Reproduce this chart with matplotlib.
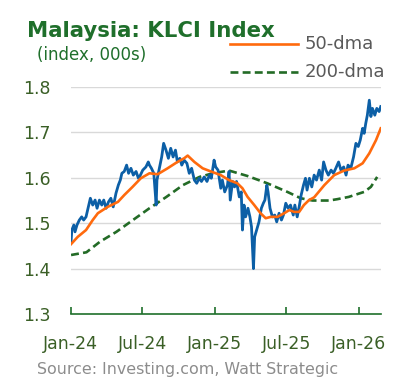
import matplotlib
matplotlib.use("Agg")
import matplotlib.pyplot as plt
import pandas as pd

# KLCI close (index, 000s)
klci_dates = [
    "2024-01-02", "2024-01-04", "2024-01-09", "2024-01-12", "2024-01-17", "2024-01-23",
    "2024-01-29", "2024-02-03", "2024-02-09", "2024-02-15", "2024-02-20", "2024-02-26",
    "2024-03-03", "2024-03-08", "2024-03-14", "2024-03-20", "2024-03-25", "2024-03-31",
    "2024-04-06", "2024-04-12", "2024-04-18", "2024-04-25", "2024-05-01", "2024-05-06",
    "2024-05-10", "2024-05-16", "2024-05-22", "2024-05-27", "2024-06-02", "2024-06-08",
    "2024-06-15", "2024-06-21", "2024-06-26", "2024-07-02", "2024-07-10", "2024-07-16",
    "2024-07-19", "2024-07-24", "2024-07-30", "2024-08-05", "2024-08-07", "2024-08-13",
    "2024-08-19", "2024-08-24", "2024-08-30", "2024-09-05", "2024-09-11", "2024-09-17",
    "2024-09-23", "2024-09-28", "2024-10-04", "2024-10-09", "2024-10-15", "2024-10-22",
    "2024-10-28", "2024-11-03", "2024-11-10", "2024-11-16", "2024-11-22", "2024-11-28",
    "2024-12-05", "2024-12-12", "2024-12-18", "2024-12-23", "2024-12-30", "2025-01-03",
    "2025-01-09", "2025-01-16", "2025-01-20", "2025-01-26", "2025-02-02", "2025-02-06",
    "2025-02-09", "2025-02-15", "2025-02-20", "2025-02-25", "2025-03-04", "2025-03-09",
    "2025-03-12", "2025-03-16", "2025-03-20", "2025-03-26", "2025-03-31", "2025-04-04",
    "2025-04-09", "2025-04-12", "2025-04-17", "2025-04-23", "2025-04-29", "2025-05-04",
    "2025-05-08", "2025-05-13", "2025-05-16", "2025-05-21", "2025-05-27", "2025-06-02",
    "2025-06-07", "2025-06-13", "2025-06-19", "2025-06-24", "2025-06-30", "2025-07-06",
    "2025-07-12", "2025-07-19", "2025-07-23", "2025-07-29", "2025-08-03", "2025-08-08",
    "2025-08-14", "2025-08-19", "2025-08-23", "2025-08-29", "2025-09-04", "2025-09-10",
    "2025-09-16", "2025-09-23", "2025-09-29", "2025-10-04", "2025-10-10", "2025-10-16",
    "2025-10-23", "2025-10-29", "2025-11-04", "2025-11-11", "2025-11-17", "2025-11-24",
    "2025-11-30", "2025-12-05", "2025-12-12", "2025-12-19", "2025-12-25", "2025-12-31",
    "2026-01-05", "2026-01-11", "2026-01-15", "2026-01-19", "2026-01-23", "2026-01-28",
    "2026-02-01", "2026-02-05", "2026-02-11", "2026-02-16", "2026-02-22", "2026-02-26",
]
klci = [
    1.459, 1.485, 1.496, 1.481, 1.496, 1.507,
    1.514, 1.507, 1.514, 1.536, 1.555, 1.540,
    1.551, 1.533, 1.551, 1.540, 1.551, 1.533,
    1.547, 1.555, 1.536, 1.566, 1.584, 1.595,
    1.610, 1.614, 1.628, 1.610, 1.621, 1.606,
    1.614, 1.599, 1.606, 1.617, 1.624, 1.635,
    1.628, 1.621, 1.610, 1.540, 1.595, 1.621,
    1.646, 1.676, 1.661, 1.643, 1.665, 1.646,
    1.661, 1.635, 1.643, 1.628, 1.639, 1.632,
    1.610, 1.621, 1.595, 1.588, 1.599, 1.592,
    1.602, 1.592, 1.606, 1.599, 1.639, 1.624,
    1.617, 1.577, 1.595, 1.569, 1.584, 1.614,
    1.551, 1.592, 1.580, 1.592, 1.558, 1.569,
    1.485, 1.540, 1.514, 1.533, 1.514, 1.492,
    1.400, 1.470, 1.485, 1.503, 1.533, 1.544,
    1.551, 1.584, 1.569, 1.533, 1.514, 1.518,
    1.503, 1.522, 1.507, 1.518, 1.544, 1.533,
    1.540, 1.518, 1.540, 1.514, 1.536, 1.562,
    1.584, 1.599, 1.573, 1.599, 1.580, 1.606,
    1.595, 1.617, 1.595, 1.635, 1.617, 1.606,
    1.617, 1.610, 1.621, 1.635, 1.617, 1.624,
    1.606, 1.628, 1.621, 1.646, 1.676, 1.669,
    1.683, 1.709, 1.698, 1.720, 1.738, 1.771,
    1.735, 1.753, 1.738, 1.753, 1.746, 1.757,
]

# 50-day moving average
dma50_dates = [
    "2024-01-02", "2024-01-19", "2024-02-09", "2024-02-26", "2024-03-10", "2024-04-04",
    "2024-04-30", "2024-05-16", "2024-06-06", "2024-06-27", "2024-07-19", "2024-08-09",
    "2024-09-03", "2024-09-28", "2024-10-15", "2024-10-24", "2024-11-10", "2024-12-01",
    "2024-12-22", "2025-01-16", "2025-02-06", "2025-02-27", "2025-03-12", "2025-03-25",
    "2025-04-11", "2025-04-27", "2025-05-10", "2025-05-23", "2025-06-09", "2025-06-26",
    "2025-07-09", "2025-07-21", "2025-08-03", "2025-08-15", "2025-08-28", "2025-09-10",
    "2025-10-06", "2025-10-31", "2025-11-25", "2025-12-21", "2026-01-11", "2026-01-28",
    "2026-02-14", "2026-02-26",
]
dma50 = [
    1.454, 1.470, 1.485, 1.507, 1.522, 1.536,
    1.547, 1.562, 1.580, 1.599, 1.610, 1.608,
    1.621, 1.635, 1.643, 1.649, 1.635, 1.621,
    1.614, 1.606, 1.595, 1.588, 1.577, 1.558,
    1.540, 1.522, 1.511, 1.514, 1.514, 1.522,
    1.529, 1.525, 1.525, 1.540, 1.551, 1.557,
    1.584, 1.606, 1.616, 1.621, 1.632, 1.654,
    1.683, 1.709,
]

# 200-day moving average
dma200_dates = [
    "2024-01-02", "2024-02-10", "2024-03-15", "2024-04-26", "2024-06-07", "2024-07-19",
    "2024-08-31", "2024-10-12", "2024-11-23", "2024-12-27", "2025-02-06", "2025-03-25",
    "2025-05-14", "2025-07-04", "2025-08-07", "2025-09-06", "2025-10-18", "2025-11-08",
    "2025-12-07", "2025-12-21", "2026-01-15", "2026-02-01", "2026-02-17",
]
dma200 = [
    1.430, 1.436, 1.459, 1.481, 1.507, 1.533,
    1.558, 1.584, 1.602, 1.610, 1.616, 1.604,
    1.588, 1.569, 1.555, 1.550, 1.550, 1.553,
    1.558, 1.562, 1.569, 1.580, 1.602,
]

y_ticks = [1.3, 1.4, 1.5, 1.6, 1.7, 1.8]
x_ticks = ["2024-01-01", "2024-07-01", "2025-01-01", "2025-07-01", "2026-01-01"]
x_labels = ["Jan-24", "Jul-24", "Jan-25", "Jul-25", "Jan-26"]

GREEN = "#1f6f2b"
TICK_GREEN = "#3a5f26"
BLUE = "#0c5fa6"
ORANGE = "#ff6a0d"
DASH_GREEN = "#236b26"
DASHES = (0, (3, 1.6))

fig = plt.figure(figsize=(3.97, 3.86), dpi=100)
ax = fig.add_axes([0.178, 0.1865, 0.782, 0.588])

ax.plot(pd.to_datetime(klci_dates), klci, color=BLUE, lw=2.0, zorder=3,
        solid_joinstyle="round")
ax.plot(pd.to_datetime(dma50_dates), dma50, color=ORANGE, lw=1.9, zorder=4,
        solid_joinstyle="round")
ax.plot(pd.to_datetime(dma200_dates), dma200, color=DASH_GREEN, lw=1.9,
        ls=DASHES, zorder=2)

ax.set_ylim(1.3, 1.8)
ax.set_xlim(pd.Timestamp("2024-01-01"), pd.Timestamp("2026-02-27"))
ax.set_yticks(y_ticks)
ax.set_yticklabels([f"{v:.1f}" for v in y_ticks])
ax.set_xticks(pd.to_datetime(x_ticks))
ax.set_xticklabels(x_labels)

for v in y_ticks[1:]:
    ax.axhline(v, color="#d9d9d9", lw=1.0, zorder=1)

for s in ["top", "right", "left"]:
    ax.spines[s].set_visible(False)
ax.spines["bottom"].set_color(GREEN)
ax.spines["bottom"].set_linewidth(1.2)

ax.tick_params(axis="y", length=0, pad=14.5, labelsize=12.5, labelcolor=TICK_GREEN)
ax.tick_params(axis="x", direction="in", length=5, width=1.2, color=GREEN,
               labelsize=12.5, labelcolor=TICK_GREEN, pad=15)

fig.text(0.068, 0.905, "Malaysia: KLCI Index", fontsize=15.3, fontweight="bold",
         color=GREEN, ha="left", va="baseline")
fig.text(0.093, 0.845, "(index, 000s)", fontsize=12, color=GREEN,
         ha="left", va="baseline")

# legend drawn by hand in figure coords
fig.lines.append(plt.Line2D([0.58, 0.751], [0.886, 0.886], color=ORANGE, lw=1.9,
                            transform=fig.transFigure))
fig.text(0.768, 0.886, "50-dma", fontsize=13, color="#595959", va="center")
fig.lines.append(plt.Line2D([0.58, 0.751], [0.814, 0.814], color=DASH_GREEN, lw=1.9,
                            ls=DASHES, transform=fig.transFigure))
fig.text(0.768, 0.814, "200-dma", fontsize=13, color="#595959", va="center")

fig.text(0.093, 0.030, "Source: Investing.com, Watt Strategic", fontsize=11.4,
         color="#8c8c8c", ha="left", va="baseline")

fig.savefig("out.png", dpi=100)
